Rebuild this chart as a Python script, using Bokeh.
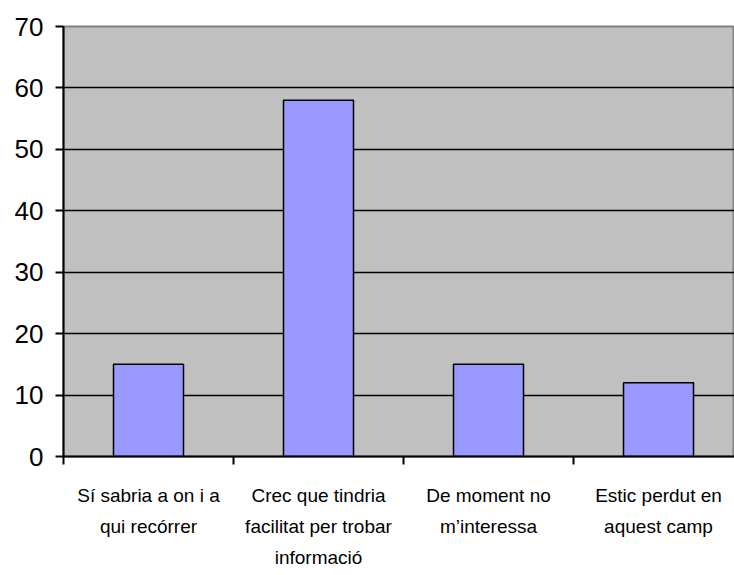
from bokeh.plotting import figure
from bokeh.models import Range1d, FixedTicker
from bokeh.embed import file_html
from bokeh.resources import INLINE

categories = [
    "Sí sabria a on i a\nqui recórrer",
    "Crec que tindria\nfacilitat per trobar\ninformació",
    "De moment no\nm’interessa",
    "Estic perdut en\naquest camp",
]
values = [15, 58, 15, 12]
y_ticks = [0, 10, 20, 30, 40, 50, 60, 70]

xs = [i + 0.5 for i in range(len(categories))]

p = figure(
    frame_width=671, frame_height=430,
    x_range=Range1d(0, 3.947), y_range=Range1d(0, 70),
    output_backend="svg", toolbar_location=None,
    min_border_left=63, min_border_right=0, min_border_top=26, min_border_bottom=119,
    background_fill_color="#c0c0c0", border_fill_color="white",
    outline_line_color="#808080", outline_line_width=2,
)

p.vbar(x=xs, top=values, width=70 / 170, bottom=0,
       fill_color="#9999ff", line_color="black", line_width=1.5)

# grid
p.xgrid.visible = False
p.ygrid.ticker = FixedTicker(ticks=[t for t in y_ticks if 0 < t < 70])
p.ygrid.grid_line_color = "black"
p.ygrid.grid_line_width = 1.5
p.ygrid.level = "underlay"

# y axis
p.yaxis.ticker = FixedTicker(ticks=y_ticks, minor_ticks=[])
p.yaxis.axis_line_color = "black"
p.yaxis.axis_line_width = 2
p.yaxis.major_tick_line_color = "black"
p.yaxis.major_tick_line_width = 2
p.yaxis.major_tick_out = 8
p.yaxis.major_tick_in = 0
p.yaxis.minor_tick_line_color = None
p.yaxis.major_label_text_font = "Liberation Sans"
p.yaxis.major_label_text_font_size = "26px"
p.yaxis.major_label_text_color = "black"
p.yaxis.major_label_standoff = 12

# x axis
p.xaxis.ticker = FixedTicker(ticks=xs, minor_ticks=[0, 1, 2, 3])
p.xaxis.major_label_overrides = {x: c for x, c in zip(xs, categories)}
p.xaxis.axis_line_color = "black"
p.xaxis.axis_line_width = 2
p.xaxis.major_tick_line_color = None
p.xaxis.minor_tick_line_color = "black"
p.xaxis.minor_tick_line_width = 2
p.xaxis.minor_tick_out = 8
p.xaxis.minor_tick_in = 0
p.xaxis.major_label_text_font = "Liberation Sans"
p.xaxis.major_label_text_font_size = "19px"
p.xaxis.major_label_text_color = "black"
p.xaxis.major_label_text_line_height = 1.48
p.xaxis.major_label_standoff = 20

open("out.html", "w").write(file_html(p, INLINE))
